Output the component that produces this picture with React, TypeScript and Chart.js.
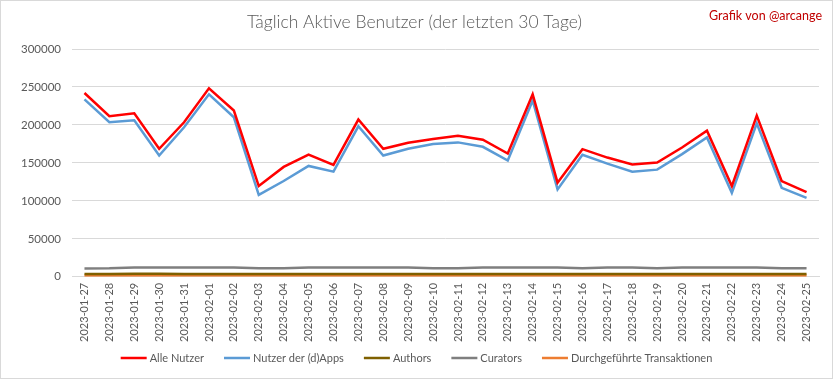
import React, { useEffect, useRef } from "react";
import { Chart, registerables } from "chart.js";

Chart.register(...registerables);

const labels = [
  "2023-01-27", "2023-01-28", "2023-01-29", "2023-01-30", "2023-01-31",
  "2023-02-01", "2023-02-02", "2023-02-03", "2023-02-04", "2023-02-05",
  "2023-02-06", "2023-02-07", "2023-02-08", "2023-02-09", "2023-02-10",
  "2023-02-11", "2023-02-12", "2023-02-13", "2023-02-14", "2023-02-15",
  "2023-02-16", "2023-02-17", "2023-02-18", "2023-02-19", "2023-02-20",
  "2023-02-21", "2023-02-22", "2023-02-23", "2023-02-24", "2023-02-25",
];

const alleNutzer = [
  242000, 211500, 215400, 168600, 203500, 248200, 219000, 119500, 144700, 161000,
  147300, 207100, 168600, 176500, 181400, 185800, 180500, 162300, 240300, 123900,
  168100, 157000, 147800, 150400, 170300, 192500, 119500, 212400, 126100, 111500,
];

const dappNutzer = [
  233600, 203500, 206100, 159700, 196900, 240300, 210100, 107900, 126100, 146000,
  138500, 198200, 159700, 168600, 174800, 177000, 171200, 153100, 232300, 115100,
  160600, 149100, 138500, 141100, 161500, 183600, 110600, 202200, 117200, 103900,
];

const authors = [
  3800, 3800, 3900, 3900, 3800, 3800, 3800, 3700, 3700, 3800,
  3800, 3800, 3800, 3800, 3800, 3800, 3800, 3700, 3800, 3800,
  3800, 3800, 3800, 3700, 3800, 3800, 3700, 3800, 3800, 3700,
];

const curators = [
  11000, 11100, 12300, 12200, 12200, 12100, 12200, 11200, 11100, 12200,
  12300, 12200, 12200, 12100, 11200, 11200, 12200, 12300, 12200, 12200,
  11200, 12300, 12200, 11200, 12300, 12300, 12200, 12200, 11200, 11100,
];

const transaktionen = [
  1800, 1800, 1800, 1800, 1800, 1800, 1800, 1800, 1800, 1800,
  1800, 1800, 1800, 1800, 1800, 1800, 1800, 1800, 1800, 1800,
  1800, 1800, 1800, 1800, 1800, 1800, 1800, 1800, 1800, 1800,
];

const yTicks = [0, 50000, 100000, 150000, 200000, 250000, 300000];

const FONT = "Lato, 'Open Sans', sans-serif";
const GRAY_TEXT = "#595959";

const creditPlugin = {
  id: "credit",
  afterDraw(chart: any) {
    const ctx = chart.ctx;
    ctx.save();
    ctx.font = `12.5px ${FONT}`;
    ctx.fillStyle = "#c00000";
    ctx.textAlign = "right";
    ctx.textBaseline = "middle";
    ctx.fillText("Grafik von @arcange", 821, 15);
    ctx.restore();
  },
};

const legendPlugin = {
  id: "lineLegend",
  afterDraw(chart: any) {
    const ctx = chart.ctx;
    const ds = chart.data.datasets;
    const lineW = 26;
    const textGap = 3;
    const itemGap = 20;
    ctx.save();
    ctx.font = `11px ${FONT}`;
    const widths = ds.map((d: any) => lineW + textGap + ctx.measureText(d.label).width);
    const total = widths.reduce((a: number, b: number) => a + b, 0) + itemGap * (ds.length - 1);
    let x = (chart.width - total) / 2;
    const y = 357;
    ctx.textBaseline = "middle";
    ctx.textAlign = "left";
    ds.forEach((d: any, i: number) => {
      ctx.strokeStyle = d.borderColor;
      ctx.lineWidth = 2.5;
      ctx.beginPath();
      ctx.moveTo(x, y);
      ctx.lineTo(x + lineW, y);
      ctx.stroke();
      ctx.fillStyle = GRAY_TEXT;
      ctx.fillText(d.label, x + lineW + textGap, y);
      x += widths[i] + itemGap;
    });
    ctx.restore();
  },
};

export default function App() {
  const ref = useRef<HTMLCanvasElement | null>(null);

  useEffect(() => {
    document.body.style.margin = "0";
    if (!ref.current) return;
    const mk = (label: string, data: number[], color: string, order: number) => ({
      label,
      data,
      borderColor: color,
      backgroundColor: color,
      borderWidth: 2.5,
      pointRadius: 0,
      tension: 0,
      fill: false,
      order,
    });
    const chart = new Chart(ref.current, {
      type: "line",
      data: {
        labels,
        datasets: [
          mk("Alle Nutzer", alleNutzer, "#ff0000", 0),
          mk("Nutzer der (d)Apps", dappNutzer, "#5b9bd5", 1),
          mk("Authors", authors, "#7f6000", 3),
          mk("Curators", curators, "#7f7f7f", 2),
          mk("Durchgeführte Transaktionen", transaktionen, "#ed7d31", 4),
        ],
      },
      options: {
        animation: false,
        responsive: false,
        maintainAspectRatio: false,
        layout: { padding: { top: 9, left: 9, right: 13, bottom: 30 } },
        plugins: {
          title: {
            display: true,
            text: "Täglich Aktive Benutzer (der letzten 30 Tage)",
            color: GRAY_TEXT,
            font: { family: FONT, size: 17.5, weight: "300" as any },
            padding: { top: 2, bottom: 16 },
          },
          legend: { display: false },
          tooltip: { enabled: false },
        },
        scales: {
          x: {
            offset: true,
            grid: { display: false, drawTicks: false },
            border: { display: true, color: "#d9d9d9" },
            ticks: {
              color: GRAY_TEXT,
              font: { family: FONT, size: 11 },
              minRotation: 90,
              maxRotation: 90,
              autoSkip: false,
              padding: 6,
            },
          },
          y: {
            min: 0,
            max: 300000,
            afterBuildTicks: (axis: any) => {
              axis.ticks = yTicks.map((v) => ({ value: v }));
            },
            grid: { color: "#d9d9d9", drawTicks: false },
            border: { display: false },
            ticks: {
              color: GRAY_TEXT,
              font: { family: FONT, size: 11.5 },
              padding: 11,
              callback: (v: any) => String(v),
            },
          },
        },
      },
      plugins: [creditPlugin, legendPlugin],
    });
    return () => chart.destroy();
  }, []);

  return (
    <div
      style={{
        position: "absolute",
        left: 0,
        top: 0,
        width: 833,
        height: 379,
        border: "1px solid #d9d9d9",
        boxSizing: "border-box",
        background: "#fff",
      }}
    >
      <canvas ref={ref} width={831} height={377} style={{ display: "block" }} />
    </div>
  );
}
